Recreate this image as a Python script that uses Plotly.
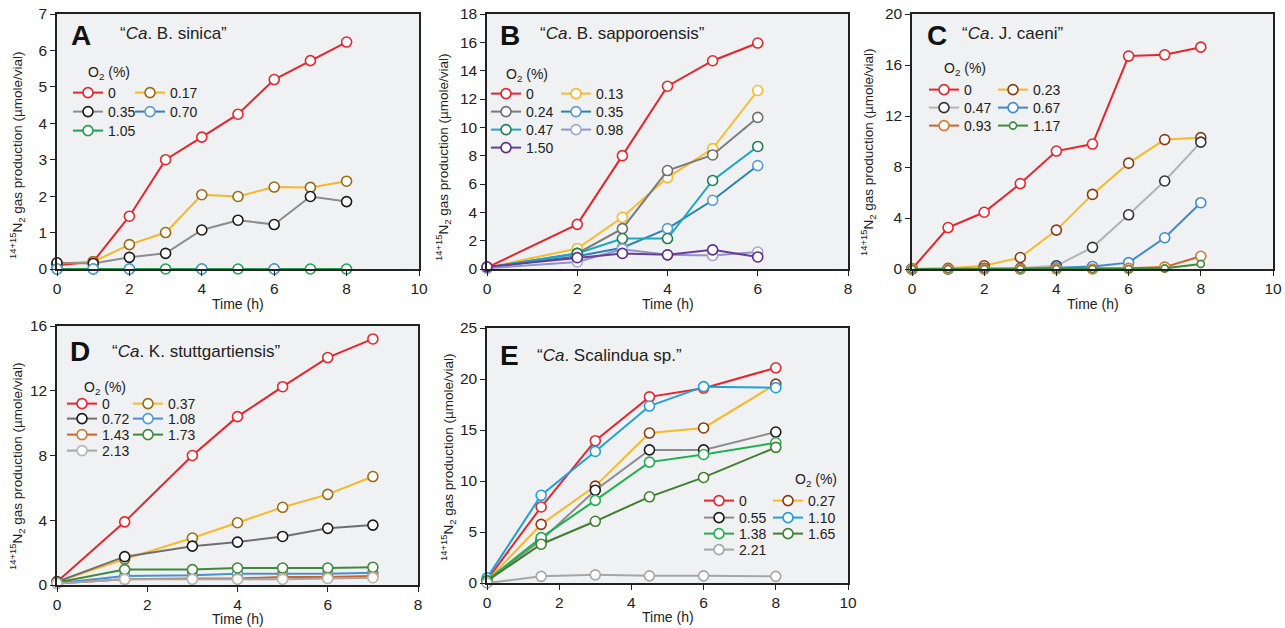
import plotly.graph_objects as go

W, H = 1285, 628
FONT = "Liberation Sans, Arial, sans-serif"

# ---------------- data ----------------
# Panel A  "Ca. B. sinica"
A_time = [0, 1, 2, 3, 4, 5, 6, 7, 8]
A_o2 = ["0", "0.17", "0.35", "0.70", "1.05"]
A_0 = [0.1, 0.2, 1.45, 3.0, 3.62, 4.25, 5.2, 5.72, 6.23]
A_017 = [0.15, 0.2, 0.67, 1.0, 2.04, 1.99, 2.25, 2.24, 2.41]
A_035 = [0.17, 0.15, 0.32, 0.43, 1.07, 1.34, 1.22, 1.99, 1.85]
A_070_time = [0, 1, 2, 4, 6]
A_070 = [0, 0, 0, 0, 0]
A_105 = [0, 0, 0, 0, 0, 0, 0, 0, 0]

# Panel B  "Ca. B. sapporoensis"
B_time = [0, 2, 3, 4, 5, 6]
B_o2 = ["0", "0.13", "0.24", "0.35", "0.47", "0.98", "1.50"]
B_0 = [0.1, 3.15, 8.0, 12.9, 14.7, 15.95]
B_013 = [0.1, 1.45, 3.65, 6.45, 8.5, 12.6]
B_024 = [0.1, 1.1, 2.85, 6.95, 8.05, 10.7]
B_035 = [0.1, 0.9, 1.5, 2.85, 4.85, 7.3]
B_047 = [0.1, 1.1, 2.15, 2.15, 6.25, 8.65]
B_098 = [0.05, 0.5, 1.4, 1.0, 0.95, 1.2]
B_150 = [0.15, 0.8, 1.1, 1.0, 1.35, 0.85]

# Panel C  "Ca. J. caeni"
C_time = [0, 1, 2, 3, 4, 5, 6, 7, 8]
C_o2 = ["0", "0.23", "0.47", "0.67", "0.93", "1.17"]
C_0 = [0, 3.25, 4.45, 6.7, 9.25, 9.8, 16.7, 16.8, 17.4]
C_023 = [0, 0.05, 0.25, 0.9, 3.05, 5.85, 8.3, 10.15, 10.3]
C_047 = [0, 0, 0.05, 0.05, 0.25, 1.7, 4.25, 6.9, 9.95]
C_067 = [0, 0, 0, 0, 0.1, 0.2, 0.5, 2.45, 5.2]
C_093 = [0, 0, 0, 0, 0, 0, 0.05, 0.15, 1.0]
C_117 = [0, 0, 0, 0, 0, 0, 0, 0.05, 0.4]

# Panel D  "Ca. K. stuttgartiensis"
D_time = [0, 1.5, 3, 4, 5, 6, 7]
D_o2 = ["0", "0.37", "0.72", "1.08", "1.43", "1.73", "2.13"]
D_0 = [0.2, 3.9, 8.0, 10.4, 12.25, 14.05, 15.2]
D_037 = [0.2, 1.6, 2.9, 3.85, 4.8, 5.6, 6.7]
D_072 = [0.2, 1.75, 2.4, 2.65, 3.0, 3.5, 3.7]
D_108 = [0.1, 0.55, 0.6, 0.7, 0.7, 0.7, 0.75]
D_143 = [0.1, 0.35, 0.4, 0.4, 0.5, 0.5, 0.55]
D_173 = [0.15, 0.95, 0.95, 1.05, 1.05, 1.05, 1.1]
D_213 = [0.1, 0.35, 0.35, 0.35, 0.35, 0.4, 0.45]

# Panel E  "Ca. Scalindua sp."
E_time = [0, 1.5, 3, 4.5, 6, 8]
E_o2 = ["0", "0.27", "0.55", "1.10", "1.38", "1.65", "2.21"]
E_0 = [0.3, 7.45, 13.95, 18.25, 19.1, 21.1]
E_027 = [0.2, 5.75, 9.5, 14.7, 15.2, 19.5]
E_055 = [0.2, 4.2, 9.1, 13.05, 13.05, 14.8]
E_110 = [0.5, 8.6, 12.9, 17.35, 19.25, 19.15]
E_138 = [0.25, 4.45, 8.1, 11.85, 12.6, 13.75]
E_165 = [0.2, 3.8, 6.05, 8.45, 10.35, 13.3]
E_221 = [0, 0.65, 0.8, 0.7, 0.7, 0.65]

# ---------------- styles ----------------
RED = "#e8242c"
panels = [
    dict(key="A", title="“<i>Ca</i>. B. sinica”",
         x=[A_time, A_time, A_time, A_070_time, A_time],
         y=[A_0, A_017, A_035, A_070, A_105], names=A_o2,
         line=[RED, "#f7b52c", "#8c8c8c", "#3a78c2", "#1fa050"],
         edge=[RED, "#9a6b14", "#1a1a1a", "#5a9ad8", "#1fa050"],
         size=[10, 10, 10, 10, 10],
         px=(57, 419, 14, 269), xr=[0, 10], xd=2, yr=[0, 7], yd=1,
         letter=(69, 36), ttl=(118, 34), ytt=(17, 155), xtt=304,
         hdr=(86, 73), rows_y=[93, 112, 131], cols_x=(81, 143)),
    dict(key="B", title="“<i>Ca</i>. B. sapporoensis”",
         x=[B_time] * 7,
         y=[B_0, B_013, B_024, B_035, B_047, B_098, B_150], names=B_o2,
         line=[RED, "#fbbb2e", "#7b7b7b", "#2a80b9", "#1aa7c4", "#8f95c9", "#6a3d9a"],
         edge=[RED, "#f9b82a", "#6f6f6f", "#5b9bd5", "#1e8050", "#a3a8db", "#5b2c8f"],
         size=[10] * 7,
         px=(487, 848, 14, 269), xr=[0, 8], xd=2, yr=[0, 18], yd=2,
         letter=(498, 36), ttl=(538, 34), ytt=(443, 157), xtt=304,
         hdr=(504, 75), rows_y=[94, 112, 130, 148], cols_x=(499, 569)),
    dict(key="C", title="“<i>Ca</i>. J. caeni”",
         x=[C_time] * 6,
         y=[C_0, C_023, C_047, C_067, C_093, C_117], names=C_o2,
         line=[RED, "#f9b82a", "#b3b3b3", "#3c8ad6", "#c8642a", "#3d8b3d"],
         edge=[RED, "#8b3a12", "#333333", "#3c8ad6", "#d9782f", "#3d8b3d"],
         size=[10, 10, 10, 10, 10, 7],
         px=(912, 1273, 14, 269), xr=[0, 10], xd=2, yr=[0, 20], yd=4,
         letter=(925, 36), ttl=(960, 34), ytt=(868, 152), xtt=304,
         hdr=(942, 69), rows_y=[90, 108, 126], cols_x=(937, 1006)),
    dict(key="D", title="“<i>Ca</i>. K. stuttgartiensis”",
         x=[D_time] * 7,
         y=[D_0, D_037, D_072, D_108, D_143, D_173, D_213], names=D_o2,
         line=[RED, "#f9b82a", "#6f6f6f", "#4a8fd6", "#c8642a", "#3f8a3a", "#a6a6a6"],
         edge=[RED, "#9a6b14", "#1a1a1a", "#4a9de0", "#d9782f", "#3f8a3a", "#b5b5b5"],
         size=[10] * 7,
         px=(57, 418, 326, 585), xr=[0, 8], xd=2, yr=[0, 16], yd=4,
         letter=(68, 351), ttl=(110, 351), ytt=(17, 466), xtt=619,
         hdr=(82, 388), rows_y=[404, 419, 435, 451], cols_x=(75, 141)),
    dict(key="E", title="“<i>Ca</i>. Scalindua sp.”",
         x=[E_time] * 7,
         y=[E_0, E_027, E_055, E_110, E_138, E_165, E_221], names=E_o2,
         line=[RED, "#f9b82a", "#8c8c8c", "#1ea0e0", "#20b050", "#3f7f2f", "#a6a6a6"],
         edge=[RED, "#8b3a12", "#1a1a1a", "#1ea0e0", "#20b050", "#3f7f2f", "#a6a6a6"],
         size=[10] * 7,
         px=(487, 848, 328, 583), xr=[0, 10], xd=2, yr=[0, 25], yd=5,
         letter=(498, 355), ttl=(535, 355), ytt=(448, 457), xtt=617,
         hdr=(793, 480), rows_y=[501, 518, 534, 550], cols_x=(712, 781)),
]

fig = go.Figure()
layout = dict(width=W, height=H, margin=dict(l=0, r=0, t=0, b=0, autoexpand=False),
              paper_bgcolor="white", plot_bgcolor="#f0f1f3",
              font=dict(family=FONT, size=14, color="#222222"),
              showlegend=True)
annotations = []
legend_count = 0


def px2x(p):
    return p / W


def px2y(p):
    return 1 - p / H


YTITLE = "<sup>14+15</sup>N<sub>2</sub> gas production (µmole/vial)"

for i, p in enumerate(panels):
    n = i + 1
    xa = "x" if n == 1 else f"x{n}"
    ya = "y" if n == 1 else f"y{n}"
    l, r, t, b = p["px"]
    axcommon = dict(showline=True, linecolor="#222222", linewidth=1.5, mirror=True,
                    ticks="outside", ticklen=5, tickwidth=1, tickcolor="#222222",
                    showgrid=False, zeroline=False, automargin=False,
                    tickfont=dict(size=15.5, family=FONT, color="#222222"))
    layout["xaxis" if n == 1 else f"xaxis{n}"] = dict(
        domain=[px2x(l), px2x(r)], range=p["xr"], dtick=p["xd"], anchor=ya, **axcommon)
    layout["yaxis" if n == 1 else f"yaxis{n}"] = dict(
        domain=[px2y(b), px2y(t)], range=p["yr"], dtick=p["yd"], anchor=xa, **axcommon)

    # legends: one horizontal legend per row (two columns)
    nser = len(p["names"])
    step = p["cols_x"][1] - p["cols_x"][0]
    row_legends = []
    for ri, ry in enumerate(p["rows_y"]):
        legend_count += 1
        lname = "legend" if legend_count == 1 else f"legend{legend_count}"
        row_legends.append(lname)
        layout[lname] = dict(
            x=px2x(p["cols_x"][0] - 13), y=px2y(ry), xanchor="left", yanchor="middle",
            orientation="h", bgcolor="rgba(0,0,0,0)", borderwidth=0,
            entrywidthmode="pixels", entrywidth=max(step - 45, 1),
            itemwidth=30, itemclick=False, itemdoubleclick=False,
            font=dict(size=14, family=FONT, color="#222222"),
            traceorder="normal", tracegroupgap=0)

    for si in range(nser):
        last_in_row = (si % 2 == 1) or (si == nser - 1)
        fig.add_trace(go.Scatter(
            x=p["x"][si], y=p["y"][si], name=p["names"][si], mode="lines+markers",
            xaxis=xa, yaxis=ya, legend=row_legends[si // 2],
            legendwidth=(45 if last_in_row else max(step - 45, 1)),
            line=dict(color=p["line"][si], width=2),
            marker=dict(symbol="circle", size=p["size"][si], color="white",
                        line=dict(color=p["edge"][si], width=1.6)),
            cliponaxis=False, hoverinfo="skip"))
    if p["key"] == "A":
        # 0.70 markers are visible on top of the 1.05 line
        fig.add_trace(go.Scatter(
            x=A_070_time, y=A_070, mode="markers", xaxis=xa, yaxis=ya, showlegend=False,
            marker=dict(symbol="circle", size=10, color="white",
                        line=dict(color=p["edge"][3], width=1.6)),
            cliponaxis=False, hoverinfo="skip"))

    annotations.append(dict(text=f"<b>{p['key']}</b>", x=px2x(p["letter"][0]), y=px2y(p["letter"][1]),
                            xref="paper", yref="paper", xanchor="left", yanchor="middle",
                            showarrow=False, font=dict(size=28, family=FONT, color="#111111")))
    annotations.append(dict(text=p["title"], x=px2x(p["ttl"][0]), y=px2y(p["ttl"][1]),
                            xref="paper", yref="paper", xanchor="left", yanchor="middle",
                            showarrow=False, font=dict(size=17, family=FONT, color="#222222")))
    annotations.append(dict(text="O<sub>2</sub> (%)", x=px2x(p["hdr"][0]), y=px2y(p["hdr"][1]),
                            xref="paper", yref="paper", xanchor="left", yanchor="middle",
                            showarrow=False, font=dict(size=14, family=FONT, color="#222222")))
    annotations.append(dict(text="Time (h)", x=px2x((l + r) / 2), y=px2y(p["xtt"]),
                            xref="paper", yref="paper", xanchor="center", yanchor="middle",
                            showarrow=False, borderpad=0,
                            font=dict(size=14, family=FONT, color="#222222")))
    annotations.append(dict(text=YTITLE, x=px2x(p["ytt"][0]), y=px2y(p["ytt"][1]),
                            xref="paper", yref="paper", xanchor="center", yanchor="middle",
                            textangle=-90, showarrow=False,
                            font=dict(size=13.5, family=FONT, color="#222222")))

layout["annotations"] = annotations
fig.update_layout(**layout)
fig.write_html("out.html")
